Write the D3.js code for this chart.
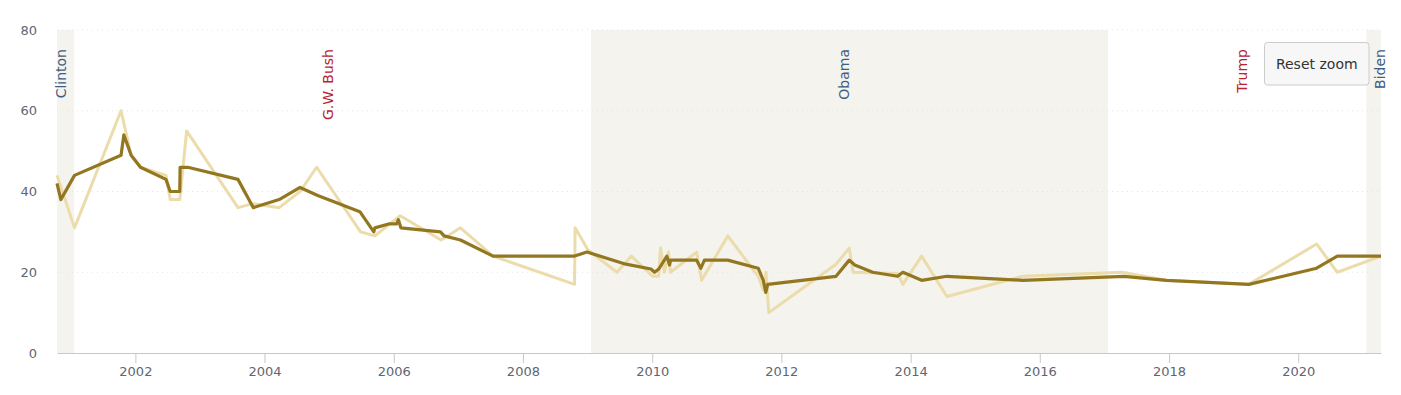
<!DOCTYPE html>
<html>
<head>
<meta charset="utf-8">
<script src="https://cdn.jsdelivr.net/npm/d3@7"></script>
<style>
  body { margin: 0; background: #fff; }
  #chart text { font-family: "DejaVu Sans", sans-serif; }
</style>
</head>
<body>
<div id="chart"></div>
<script>
// light series (individual readings)
const rawDates = ["2000-10-15", "2001-01-22", "2001-10-12", "2001-12-08", "2002-01-30", "2002-06-23", "2002-07-17",
  "2002-09-09", "2002-10-18", "2003-08-04", "2003-10-26", "2004-03-24", "2004-07-20", "2004-10-22", "2005-06-27",
  "2005-09-16", "2006-02-06", "2006-09-26", "2007-01-13", "2007-07-16", "2008-10-19", "2008-10-22", "2009-01-03",
  "2009-06-16", "2009-09-05", "2010-01-03", "2010-02-06", "2010-02-17", "2010-03-11", "2010-04-03", "2010-04-14",
  "2010-09-09", "2010-10-07", "2011-03-04", "2011-08-23", "2011-09-22", "2011-10-06", "2011-10-22", "2012-11-05",
  "2013-01-19", "2013-02-09", "2013-10-19", "2013-11-18", "2014-03-04", "2014-07-25", "2015-09-26", "2017-04-10",
  "2017-12-17", "2019-03-28", "2020-04-14", "2020-08-09", "2021-04-13"];
const rawValues = [44, 31, 60, 49, 46, 44, 38, 38, 55, 36, 37, 36, 40, 46, 30,
  29, 34, 28, 31, 24, 17, 31, 25.5, 20, 24, 19, 19, 26, 20, 25, 20,
  25, 18, 29, 19, 15.5, 20, 10, 22, 26, 20, 19.7, 17, 24, 14, 19, 20,
  18, 17, 27, 20, 24];

// dark series (running average)
const avgDates = ["2000-10-15", "2000-11-06", "2001-01-22", "2001-10-12", "2001-10-28", "2001-12-08", "2002-01-30",
  "2002-06-23", "2002-07-17", "2002-09-09", "2002-09-11", "2002-10-24", "2003-08-04", "2003-10-30", "2004-03-24",
  "2004-07-20", "2004-10-28", "2005-06-23", "2005-09-10", "2005-09-16", "2005-12-08", "2006-01-17", "2006-01-27",
  "2006-02-10", "2006-09-22", "2006-10-12", "2007-01-13", "2007-07-16", "2008-10-19", "2008-12-28", "2009-08-05",
  "2009-12-25", "2010-01-14", "2010-02-07", "2010-03-25", "2010-04-09", "2010-04-15", "2010-09-09", "2010-10-03",
  "2010-10-23", "2011-03-04", "2011-08-23", "2011-09-21", "2011-10-05", "2011-10-16", "2012-11-05", "2013-01-19",
  "2013-02-19", "2013-05-31", "2013-10-19", "2013-11-18", "2014-03-04", "2014-07-25", "2015-09-26", "2017-04-21",
  "2017-12-17", "2019-03-28", "2020-04-14", "2020-08-09", "2021-04-13"];
const avgValues = [42, 38, 44, 49, 54, 49, 46, 43, 40, 40, 46, 46, 43, 36, 38,
  41, 39, 35, 30, 31, 32, 32, 33, 31, 30, 29, 28, 24, 24, 25, 22,
  20.8, 20, 20.8, 24, 21.8, 23, 23, 21, 23, 23, 21, 18, 15, 17, 19, 23,
  21.8, 20, 19, 20, 18, 19, 18, 19, 18, 17, 21, 24, 24];

const presidents = ["Clinton", "G.W. Bush", "Obama", "Trump", "Biden"];
const parties = ["D", "R", "D", "R", "D"];
const termStarts = ["1993-01-20", "2001-01-20", "2009-01-20", "2017-01-20", "2021-01-20"];
const termEnds = ["2001-01-20", "2009-01-20", "2017-01-20", "2021-01-20", "2025-01-20"];

const yTicks = [0, 20, 40, 60, 80];

const W = 1401, H = 395;
const margin = { top: 30, right: 20, bottom: 42, left: 57 };
const parse = d3.timeParse("%Y-%m-%d");

const svg = d3.select("#chart").append("svg")
  .attr("width", W).attr("height", H);

const x = d3.scaleTime()
  .domain([parse(rawDates[0]), parse(rawDates[rawDates.length - 1])])
  .range([margin.left, W - margin.right]);
const y = d3.scaleLinear().domain([0, 80]).range([H - margin.bottom, margin.top]);

const [x0, x1] = x.range();
const clampX = d => Math.max(x0, Math.min(x1, x(d)));

// democratic terms shaded
presidents.forEach((p, i) => {
  if (parties[i] !== "D") return;
  const a = clampX(parse(termStarts[i])), b = clampX(parse(termEnds[i]));
  svg.append("rect")
    .attr("x", a).attr("y", y(80))
    .attr("width", b - a).attr("height", y(0) - y(80))
    .attr("fill", "#f4f3ee");
});

// grid
svg.append("g").selectAll("line")
  .data(yTicks.filter(t => t > 0))
  .enter().append("line")
  .attr("x1", x0).attr("x2", x1)
  .attr("y1", d => y(d)).attr("y2", d => y(d))
  .attr("stroke", "#e3e3e3")
  .attr("stroke-dasharray", "1,4");

// y labels
svg.append("g").selectAll("text")
  .data(yTicks)
  .enter().append("text")
  .attr("x", x0 - 20)
  .attr("y", d => y(d))
  .attr("dy", "0.35em")
  .attr("text-anchor", "end")
  .style("font-size", "13px")
  .attr("fill", "#5f6670")
  .text(d => d);

// x axis
const xAxis = svg.append("g")
  .attr("transform", `translate(0,${y(0)})`)
  .call(d3.axisBottom(x)
    .ticks(d3.timeYear.every(2))
    .tickFormat(d3.timeFormat("%Y"))
    .tickSize(10)
    .tickSizeOuter(0)
    .tickPadding(4));
xAxis.select(".domain").attr("stroke", "#c8c8c8");
xAxis.selectAll(".tick line").attr("stroke", "#c8c8c8");
xAxis.selectAll(".tick text")
  .style("font-size", "13px")
  .style("font-family", "DejaVu Sans, sans-serif")
  .attr("fill", "#5f6670");

// lines
const line = d3.line()
  .x(d => x(d[0]))
  .y(d => y(d[1]));

svg.append("path")
  .datum(rawDates.map((d, i) => [parse(d), rawValues[i]]))
  .attr("d", line)
  .attr("fill", "none")
  .attr("stroke", "#ebdcaa")
  .attr("stroke-width", 3)
  .attr("stroke-linejoin", "round");

svg.append("path")
  .datum(avgDates.map((d, i) => [parse(d), avgValues[i]]))
  .attr("d", line)
  .attr("fill", "none")
  .attr("stroke", "#937720")
  .attr("stroke-width", 3.2)
  .attr("stroke-linejoin", "round");

// president labels
const labelShift = [0, 0, 0, 10, 11];
presidents.forEach((p, i) => {
  const a = clampX(parse(termStarts[i])), b = clampX(parse(termEnds[i]));
  const cx = (a + b) / 2 + labelShift[i];
  svg.append("text")
    .attr("transform", `translate(${cx},49) rotate(-90)`)
    .attr("text-anchor", "end")
    .style("font-size", "14px")
    .attr("fill", parties[i] === "D" ? "#3d5d83" : "#b8232f")
    .text(p);
});

// reset zoom button
const btn = svg.append("g").attr("transform", "translate(1264.5,42.5)");
btn.append("rect")
  .attr("width", 104.5).attr("height", 42.5)
  .attr("rx", 3)
  .attr("fill", "#f7f7f7")
  .attr("stroke", "#cccccc");
btn.append("text")
  .attr("x", 52.25).attr("y", 21.5)
  .attr("dy", "0.35em")
  .attr("text-anchor", "middle")
  .style("font-size", "14px")
  .attr("fill", "#333")
  .text("Reset zoom");
</script>
</body>
</html>
